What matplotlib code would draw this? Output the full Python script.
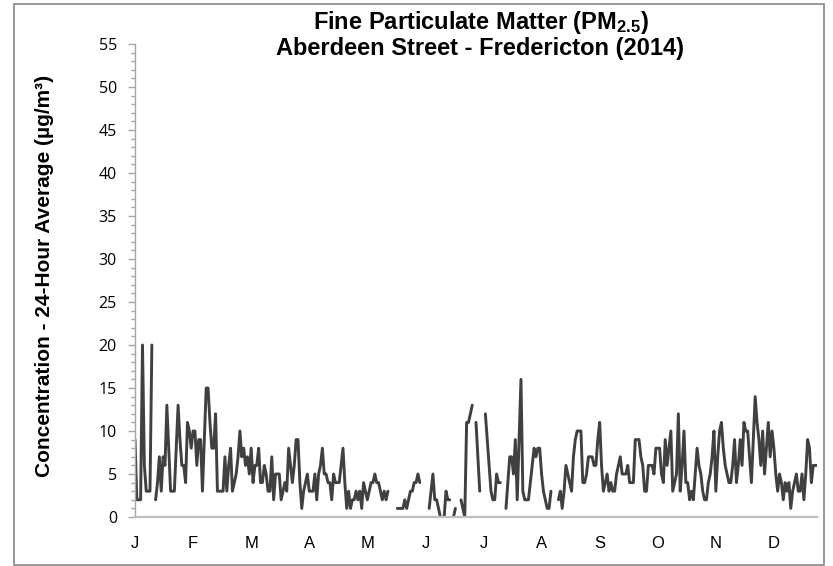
import numpy as np
import matplotlib
matplotlib.use("Agg")
import matplotlib.pyplot as plt
from matplotlib.patches import Rectangle
from matplotlib.ticker import MultipleLocator, FixedLocator

nan = np.nan
# Daily 24-hour average PM2.5 (ug/m3), 2014 (nan = missing)
jan = [9, 2, 2, 2, 20, 6, 3, 3, 3, 20, nan, 2, 4, 7, 3, 7, 6, 13, 8, 3, 3, 3, 8, 13, 9, 6, 6, 4, 11, 10, 8]
feb = [10, 10, 6, 9, 9, 3, 9, 15, 15, 11, 8, 8, 12, 3, 3, 3, 3, 7, 3, 6, 8, 3, 4, 5, 7, 10, 7, 8]
mar = [6, 7, 5, 8, 4, 6, 6, 8, 4, 4, 6, 5, 3, 3, 7, 2, 5, 5, 5, 2, 3, 4, 3, 8, 6, 4, 6, 9, 9, 4, 1]
apr = [3, 4, 5, 3, 3, 3, 5, 2, 5, 6, 8, 5, 5, 4, 4, 2, 5, 4, 4, 4, 6, 8, 4, 1, 3, 1, 2, 2, 3, 2]
may = [3, 1, 4, 3, 2, 3, 4, 4, 5, 4, 4, 3, 2, 3, 2, 3, nan, nan, nan, nan, 1, 1, 1, 1, 2, 1, 2, 3, 3, 4, 4]
jun = [5, 4, nan, nan, nan, nan, 1, 3, 5, 2, 2, 1, 0, nan, 0, 3, 2, 2, nan, 0, 1, nan, nan, 2, 1, 0, 11, 11, 12, 13]
jul = [nan, 11, 7, 3, nan, nan, 12, 9, 6, 3, 2, 2, 5, 4, 4, nan, nan, 1, 4, 7, 7, 5, 9, 2, 9, 16, 3, 2, 2, 2, 4]
aug = [6, 8, 7, 8, 8, 5, 3, 2, 1, 1, 3, nan, nan, nan, 2, 3, 1, 3, 6, 5, 4, 3, 7, 9, 10, 10, 10, 4, 4, 5, 7]
sep = [7, 7, 6, 6, 9, 11, 6, 3, 4, 5, 3, 4, 3, 3, 5, 6, 7, 5, 5, 5, 6, 4, 4, 4, 9, 9, 9, 7, 6, 3]
oct_ = [3, 6, 6, 6, 5, 8, 8, 8, 5, 4, 9, 6, 8, 10, 3, 4, 5, 12, 3, 6, 10, 4, 4, 2, 3, 2, 5, 8, 6, 5, 3]
nov = [2, 2, 4, 5, 7, 10, 3, 7, 10, 11, 8, 6, 5, 4, 4, 6, 9, 4, 6, 9, 6, 11, 10, 10, 7, 4, 9, 14, 11, 9]
dec = [6, 10, 5, 8, 11, 7, 10, 8, 5, 3, 5, 4, 2, 4, 3, 4, 1, 3, 4, 5, 3, 3, 5, 2, 5, 9, 8, 4, 6, 6, 6]

month_labels = ["J", "F", "M", "A", "M", "J", "J", "A", "S", "O", "N", "D"]
title_line1 = "Fine Particulate Matter (PM$_{2.5}$)"
title_line2 = "Aberdeen Street - Fredericton (2014)"
ylabel = "Concentration - 24-Hour Average (µg/m³)"

values = np.array(jan + feb + mar + apr + may + jun + jul + aug + sep + oct_ + nov + dec, dtype=float)
days = np.arange(len(values))

plt.rcParams["font.family"] = ["Liberation Sans", "DejaVu Sans"]
plt.rcParams["mathtext.fontset"] = "custom"
plt.rcParams["mathtext.rm"] = "Liberation Sans:bold"
plt.rcParams["mathtext.it"] = "Liberation Sans:bold"
plt.rcParams["mathtext.bf"] = "Liberation Sans:bold"

W, H = 833, 566
fig = plt.figure(figsize=(W / 100, H / 100), dpi=100)
fig.patch.set_facecolor("white")

ax = fig.add_axes([135 / W, 1 - 517 / H, (817 - 135) / W, (517 - 44) / H])
ax.plot(days, values, color="#404040", lw=2.1, solid_joinstyle="round", solid_capstyle="round")

ax.set_xlim(0, 364)
ax.set_ylim(0, 55)

ax.yaxis.set_major_locator(MultipleLocator(5))
ax.yaxis.set_minor_locator(MultipleLocator(1))
ax.tick_params(axis="y", which="major", direction="out", length=5, width=1, color="#a6a6a6",
               pad=8, labelsize=11.5, labelcolor="black")
ax.tick_params(axis="y", which="minor", direction="out", length=3, width=1, color="#a6a6a6")
for lab in ax.get_yticklabels():
    lab.set_family(["Open Sans", "DejaVu Sans"])

ax.xaxis.set_major_locator(FixedLocator([31 * k for k in range(12)]))
ax.set_xticklabels(month_labels)
ax.tick_params(axis="x", which="both", length=0, pad=14, labelsize=12, labelcolor="black")

for s in ["top", "right"]:
    ax.spines[s].set_visible(False)
ax.spines["left"].set_color("#a6a6a6")
ax.spines["left"].set_linewidth(1.0)
ax.spines["bottom"].set_color("#bfbfbf")
ax.spines["bottom"].set_linewidth(1.6)

fig.text(45 / W, 1 - 276 / H, ylabel, rotation=90, ha="center", va="center",
         fontsize=15, fontweight="bold")

fig.text(481 / W, 1 - 23 / H, title_line1, ha="center", va="center", fontsize=17, fontweight="bold")
fig.text(480 / W, 1 - 48 / H, title_line2, ha="center", va="center", fontsize=17, fontweight="bold")

fig.patches.append(Rectangle((14 / W, 1 - 565 / H), (824 - 14) / W, (565 - 4) / H,
                             transform=fig.transFigure, fill=False, edgecolor="#868686", lw=1.2))

fig.savefig("out.png", dpi=100)
